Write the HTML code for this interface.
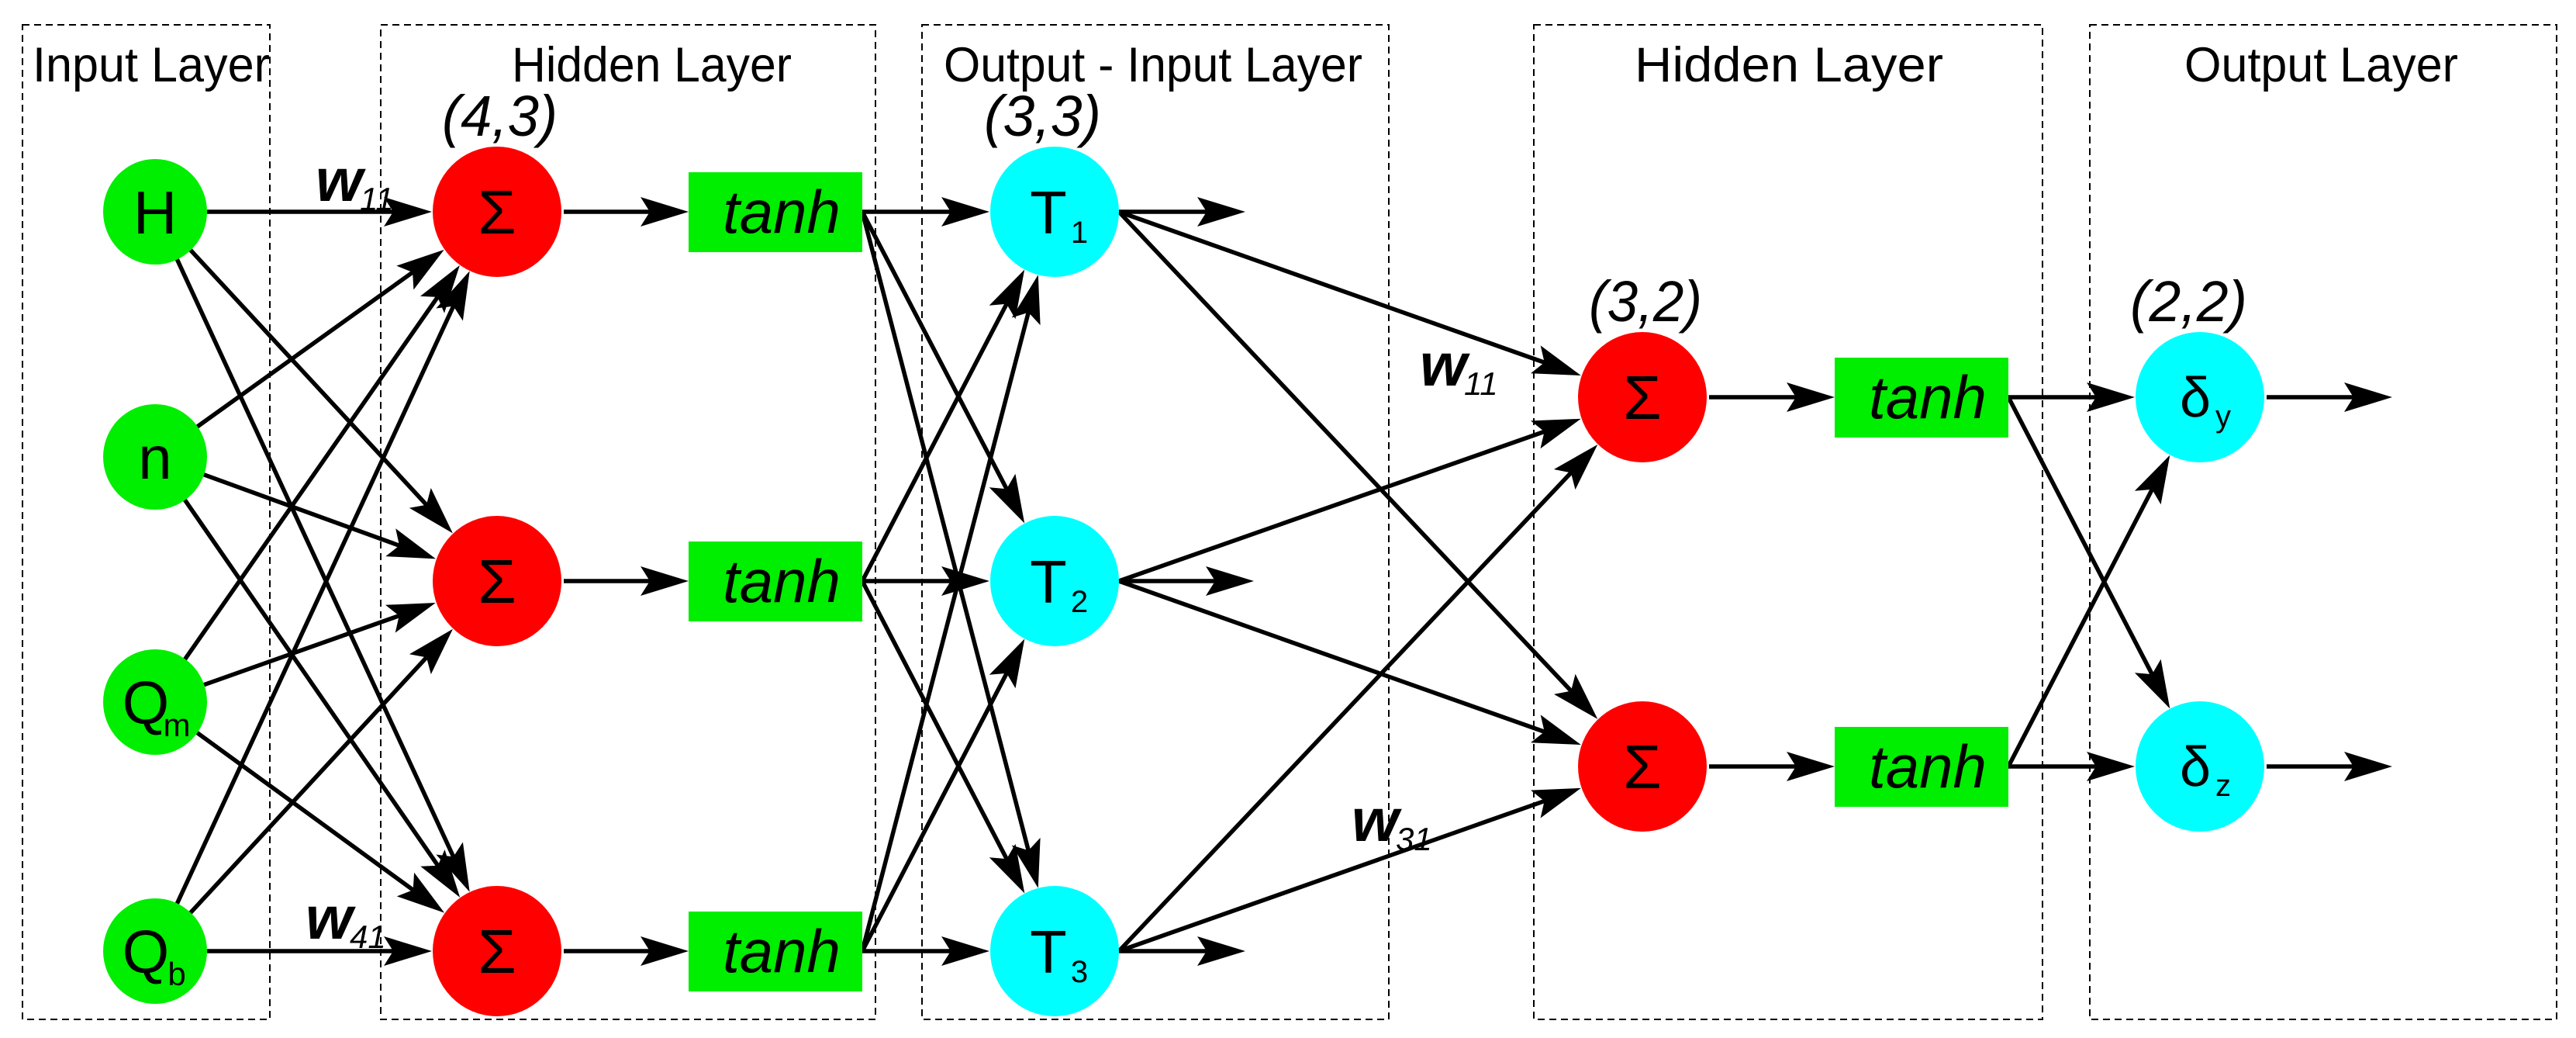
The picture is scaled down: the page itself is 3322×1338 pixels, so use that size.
<!DOCTYPE html>
<html><head><meta charset="utf-8"><style>
html,body{margin:0;padding:0;background:#fff;}
svg{display:block;}
text{font-family:"Liberation Sans",Arial,sans-serif;}
</style></head><body>
<svg id="s" xmlns="http://www.w3.org/2000/svg" width="3322" height="1338" viewBox="0 0 3322 1338">
<g fill="none" stroke="#000" stroke-width="2" stroke-dasharray="9,6">
<rect x="29" y="32" width="319" height="1282"/>
<rect x="491" y="32" width="638" height="1282"/>
<rect x="1189" y="32" width="602" height="1282"/>
<rect x="1978" y="32" width="656" height="1282"/>
<rect x="2695" y="32" width="602" height="1282"/>
</g>
<g font-size="63" fill="#000">
<text x="42" y="105" textLength="306" lengthAdjust="spacingAndGlyphs">Input Layer</text>
<text x="660" y="105" textLength="361" lengthAdjust="spacingAndGlyphs">Hidden Layer</text>
<text x="1217" y="105" textLength="540" lengthAdjust="spacingAndGlyphs">Output - Input Layer</text>
<text x="2108" y="105" textLength="398" lengthAdjust="spacingAndGlyphs">Hidden Layer</text>
<text x="2817" y="105" textLength="353" lengthAdjust="spacingAndGlyphs">Output Layer</text>
</g>
<g id="edges"></g>
<g id="nodes"></g>
</svg>
<script>
var NS="http://www.w3.org/2000/svg";
var E=document.getElementById('edges'),N=document.getElementById('nodes');
function el(p,t,a,txt){var e=document.createElementNS(NS,t);for(var k in a)e.setAttribute(k,a[k]);if(txt!=null)e.textContent=txt;p.appendChild(e);return e;}
function arrow(x1,y1,x2,y2){
 var dx=x2-x1,dy=y2-y1,L=Math.hypot(dx,dy),ux=dx/L,uy=dy/L,px=-uy,py=ux;
 var hl=62,hw=19,nd=50;
 el(E,'line',{x1:x1,y1:y1,x2:x2-ux*nd,y2:y2-uy*nd,stroke:'#000','stroke-width':5.5});
 var p=[[x2,y2],[x2-ux*hl+px*hw,y2-uy*hl+py*hw],[x2-ux*nd,y2-uy*nd],[x2-ux*hl-px*hw,y2-uy*hl-py*hw]];
 el(E,'polygon',{points:p.map(function(q){return q[0].toFixed(1)+','+q[1].toFixed(1)}).join(' '),fill:'#000'});
}
function toCircle(x1,y1,cx,cy,r){var dx=cx-x1,dy=cy-y1,L=Math.hypot(dx,dy);arrow(x1,y1,cx-dx/L*r,cy-dy/L*r);}
function fromCircle(cx,cy,r,tx,ty){var dx=tx-cx,dy=ty-cy,L=Math.hypot(dx,dy);return [cx+dx/L*r,cy+dy/L*r];}
var R=[273,749,1226];
var inY=[273,589,905,1226],inX=200,inR=67;
var sX=641,sR=83;
inY.forEach(function(y){R.forEach(function(ty){var s=fromCircle(inX,y,inR,sX,ty);toCircle(s[0],s[1],sX,ty,sR+1);});});
R.forEach(function(y){arrow(sX+sR+3,y,888,y);});
var tX=1360,tR=83;
R.forEach(function(y){R.forEach(function(ty){toCircle(1112,y,tX,ty,tR+1);});});
R.forEach(function(y,i){arrow(tX+tR,y,i==1?1617:1606,y);});
var s2X=2118,R2=[512,988];
R.forEach(function(y){R2.forEach(function(ty){toCircle(tX+tR,y,s2X,ty,sR+1);});});
R2.forEach(function(y){arrow(s2X+sR+3,y,2366,y);});
var dX=2837;
R2.forEach(function(y){R2.forEach(function(ty){toCircle(2590,y,dX,ty,sR+1);});});
R2.forEach(function(y){arrow(dX+sR+3,y,3085,y);});
function circ(x,y,r,f){el(N,'ellipse',{cx:x,cy:y,rx:r,ry:r+1,fill:f});}
var lab=[['H',''],['n',''],['Q','m'],['Q','b']];
inY.forEach(function(y,i){circ(inX,y,inR,'#00ee00');
 el(N,'text',{x:lab[i][1]?inX-12:inX,y:y+28,'font-size':78,'text-anchor':'middle'},lab[i][0]);
 if(lab[i][1])el(N,'text',{x:inX+28,y:y+44,'font-size':42,'text-anchor':'middle'},lab[i][1]);});
function sig(x,y){circ(x,y,sR,'#ff0000');el(N,'text',{x:x,y:y+28,'font-size':80,'text-anchor':'middle'},'Σ');}
R.forEach(function(y){sig(sX,y);});
R2.forEach(function(y){sig(s2X,y);});
function tanh(x,y,w){el(N,'rect',{x:x,y:y-51,width:w,height:103,fill:'#00ee00'});el(N,'text',{x:x+w/2+8,y:y+27,'font-size':78,'font-style':'italic','text-anchor':'middle'},'tanh');}
R.forEach(function(y){tanh(888,y,224);});
R2.forEach(function(y){tanh(2366,y,224);});
R.forEach(function(y,i){circ(tX,y,tR,'#00ffff');el(N,'text',{x:tX-8,y:y+28,'font-size':78,'text-anchor':'middle'},'T');el(N,'text',{x:tX+32,y:y+40,'font-size':40,'text-anchor':'middle'},String(i+1));});
var dl=['y','z'];
R2.forEach(function(y,i){circ(dX,y,sR,'#00ffff');el(N,'text',{x:dX-6,y:y+25,'font-size':72,'text-anchor':'middle'},'δ');el(N,'text',{x:dX+30,y:y+38,'font-size':40,'text-anchor':'middle'},dl[i]);});
function pair(x,y,t,w){el(N,'text',{x:x,y:y,'font-size':74,'font-style':'italic',textLength:w,lengthAdjust:'spacingAndGlyphs'},t);}
pair(570,175,'(4,3)',149);pair(1269,175,'(3,3)',151);pair(2049,414,'(3,2)',146);pair(2747,414,'(2,2)',151);
function w(x,y,sub){el(N,'text',{x:x,y:y,'font-size':78,'font-style':'italic','font-weight':'bold'},'w');el(N,'text',{x:x+57,y:y+12,'font-size':42,'font-style':'italic'},sub);}
w(407,259,'11');w(394,1210,'41');w(1831,497,'11');w(1743,1084,'31');
</script>
</body></html>
